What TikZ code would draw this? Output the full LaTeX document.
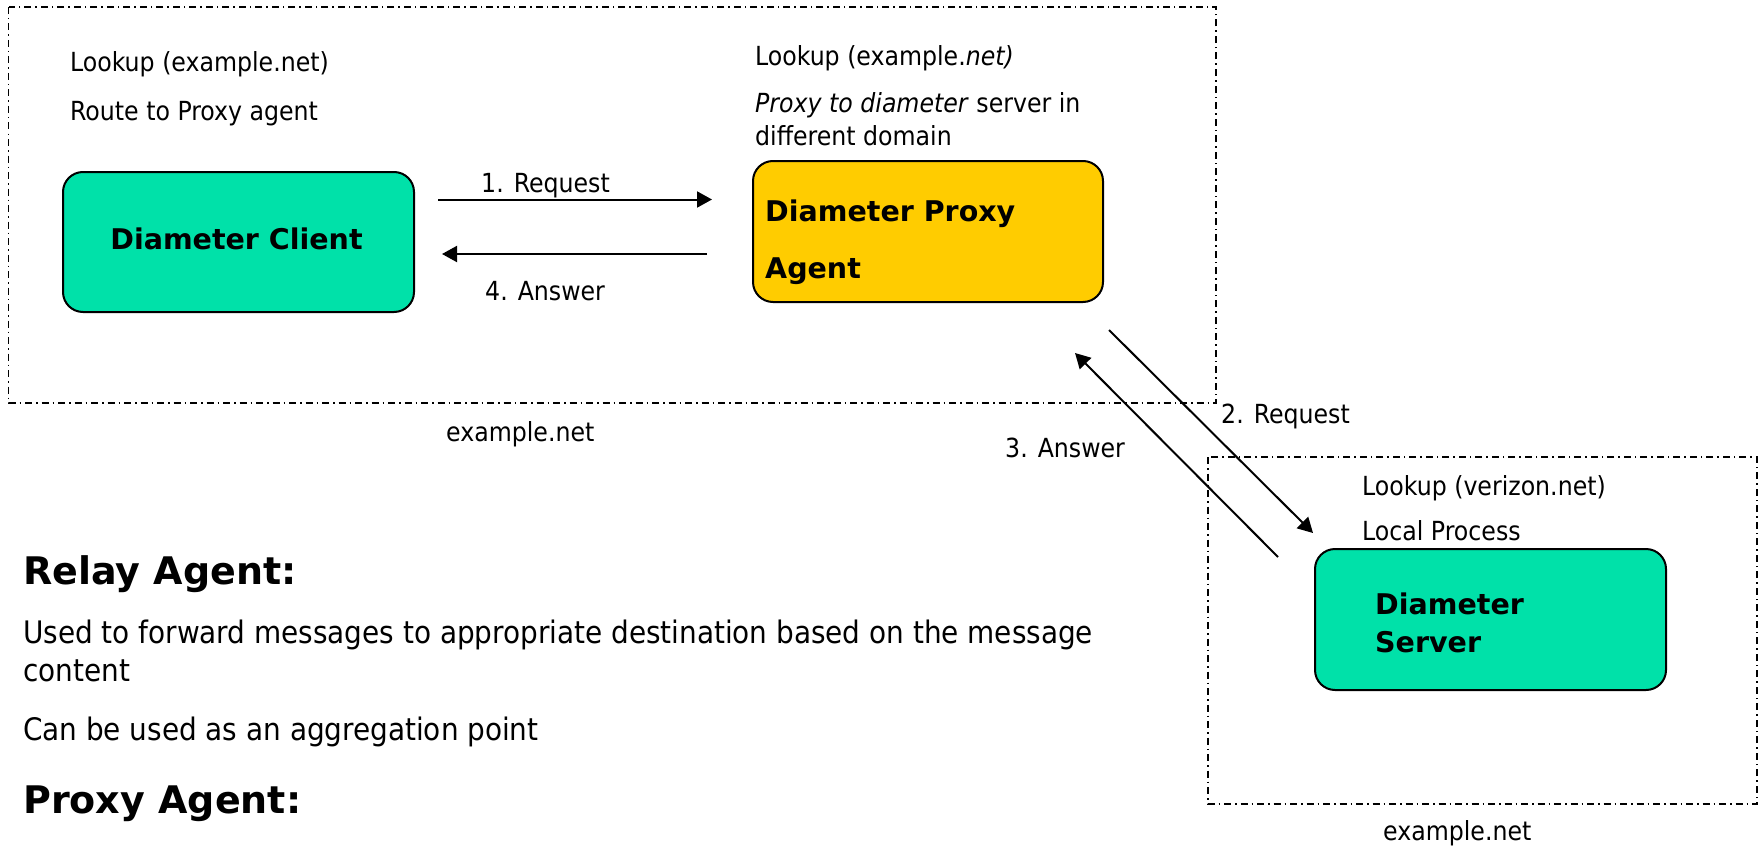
\documentclass[tikz,border=0pt]{standalone}
\usepackage{fontspec}
\setmainfont{DejaVu Sans Condensed}
\newfontfamily\wideface{DejaVu Sans}
\usetikzlibrary{arrows.meta}
\definecolor{boxgreen}{HTML}{00E1A9}
\definecolor{boxyellow}{HTML}{FFCC00}
\tikzset{
  domainbox/.style={line width=1.5pt, dash pattern=on 7pt off 4pt on 1.5pt off 4pt},
  agentbox/.style={draw=black, line width=2pt, rounded corners=20pt, inner sep=0pt},
  msg/.style={line width=2pt, -{Triangle[length=15pt,width=16pt]}},
  note/.style={anchor=base west, inner sep=0pt, font=\fontsize{26.3}{31}\selectfont},
  body/.style={anchor=base west, inner sep=0pt, font=\fontsize{31}{37}\selectfont},
  heading/.style={anchor=base west, inner sep=0pt, font=\wideface\fontsize{38}{46}\selectfont\bfseries},
  boxlabel/.style={inner sep=0pt, font=\wideface\fontsize{28.5}{34}\selectfont\bfseries},
}
\begin{document}
\begin{tikzpicture}[x=1pt, y=-1pt]
\useasboundingbox (0,0) rectangle (1760,848);

% domain frames
\draw[domainbox] (8.5,7) rectangle (1216,403);
\draw[domainbox] (1208,457) rectangle (1757,804);

% agents
\node[agentbox, fill=boxgreen, minimum width=351pt, minimum height=140pt] (client) at (238.5,242) {};
\node[agentbox, fill=boxyellow, minimum width=350pt, minimum height=141pt] (proxy) at (928,231.5) {};
\node[agentbox, fill=boxgreen, minimum width=351pt, minimum height=141pt] (server) at (1490.5,619.5) {};

\node[boxlabel, anchor=base] (clientlbl) at (236.5,249) {Diameter Client};
\node[boxlabel, anchor=base west] (proxylbl1) at (765,221) {Diameter Proxy};
\node[boxlabel, anchor=base west] (proxylbl2) at (765,278) {Agent};
\node[boxlabel, anchor=base west] (serverlbl1) at (1375,614) {Diameter};
\node[boxlabel, anchor=base west] (serverlbl2) at (1375,652) {Server};

% notes inside the frames
\node[note] (n1) at (70,72) {Lookup (example.net)};
\node[note] (n2) at (70,121) {Route to Proxy agent};
\node[note] (n3) at (755,66) {Lookup (example.\textit{net)}};
\node[note] (n4) at (755,113) {\textit{Proxy to diameter} server in};
\node[note] (n5) at (755,145) {different domain};
\node[note] (n6) at (1362,495) {Lookup (verizon.net)};
\node[note] (n7) at (1362,540) {Local Process};
\node[note] (dom1) at (446,441) {example.net};
\node[note] (dom2) at (1383,840) {example.net};

% message flow
\coordinate (a1s) at (438,199.5);
\coordinate (a1e) at (712,199.5);
\coordinate (a4s) at (707,254);
\coordinate (a4e) at (442,254);
\coordinate (a2s) at (1109,330);
\coordinate (a2e) at (1313,533);
\coordinate (a3s) at (1278,557);
\coordinate (a3e) at (1075,353);
\draw[msg] (a1s) -- (a1e);
\draw[msg] (a4s) -- (a4e);
\draw[msg] (a2s) -- (a2e);
\draw[msg] (a3s) -- (a3e);
\node[note] (m1) at (481,192) {1. Request};
\node[note] (m4) at (485,300) {4. Answer};
\node[note] (m2) at (1221,423) {2. Request};
\node[note] (m3) at (1005,457) {3. Answer};

% description
\node[heading] (h1) at (23,584) {Relay Agent:};
\node[body] (b1) at (23,643) {Used to forward messages to appropriate destination based on the message};
\node[body] (b2) at (23,681.5) {content};
\node[body] (b3) at (23,740) {Can be used as an aggregation point};
\node[heading] (h2) at (23,813) {Proxy Agent:};
\end{tikzpicture}
\end{document}
